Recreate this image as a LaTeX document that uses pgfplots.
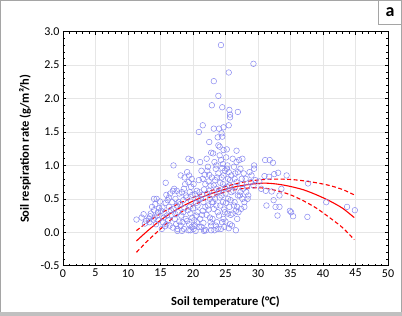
\documentclass[border=0pt]{standalone}
\usepackage{fontspec}
\setmainfont{Carlito}
\usepackage{pgfplots}
\pgfplotsset{compat=1.18}
\definecolor{mk}{RGB}{135,135,240}
\definecolor{grd}{RGB}{230,230,230}
\definecolor{frm}{RGB}{165,165,165}
\begin{document}
\begin{tikzpicture}
\begin{axis}[
 scale only axis, width=325pt, height=234pt,
 xmin=0,xmax=50,ymin=-0.5,ymax=3,
 xtick={0,5,...,50}, ytick={-0.5,0,0.5,1,1.5,2,2.5,3},
 minor x tick num=4, minor y tick num=4,
 tick align=inside, major tick length=3pt, minor tick length=2pt,
 tick style={black, line width=0.5pt},
 xmajorgrids, ymajorgrids, grid style={grd, line width=0.5pt},
 axis line style={line width=0.8pt},
 /pgf/number format/assume math mode=true,
 ticklabel style={font=\fontsize{12}{14}\selectfont},
 y tick label style={/pgf/number format/.cd, fixed, fixed zerofill, precision=1},
 xlabel={Soil temperature (°C)},
 ylabel={Soil respiration rate (g/m²/h)},
 label style={font=\bfseries\fontsize{12.5}{14}\selectfont},
 xlabel style={at={(axis description cs:0.5,-0.155)}, anchor=center},
 ylabel style={at={(axis description cs:-0.117,0.5)}, anchor=center},
]
\addplot[only marks, mark=o, mark size=2.8pt, mark options={mk, line width=0.5pt}] table {
x y
24.3 2.80
29.3 2.52
25.5 2.39
23.2 2.26
23.9 2.04
22.9 1.90
24.5 1.87
25.6 1.83
25.7 1.76
25.7 1.72
26.9 1.80
21.5 1.60
20.9 1.50
23.2 1.55
24.0 1.55
24.7 1.57
25.5 1.60
24.4 1.48
24.5 1.43
23.8 1.42
22.5 1.35
23.9 1.30
24.1 1.28
24.7 1.23
25.2 1.24
26.7 1.22
22.8 1.19
17.0 1.00
19.3 1.10
19.8 1.08
15.8 0.74
11.3 0.19
12.4 0.27
13.4 0.24
14.0 0.50
14.4 0.50
31.1 1.08
31.8 1.08
32.3 1.04
29.4 1.00
29.4 0.95
31.0 0.84
31.7 0.83
32.5 0.87
33.1 0.89
34.4 0.85
31.2 0.62
32.1 0.61
33.3 0.55
33.6 0.65
31.3 0.40
32.4 0.48
32.7 0.38
33.3 0.38
33.0 0.25
34.9 0.32
35.1 0.30
35.4 0.24
37.6 0.23
37.7 0.73
40.5 0.45
43.7 0.38
44.9 0.33
12.1 0.22
12.8 0.17
13.2 0.20
12.6 0.13
13.5 0.28
13.9 0.19
13.7 0.38
13.3 0.15
14.0 0.33
14.2 0.42
14.5 0.25
14.8 0.36
14.3 0.12
14.7 0.18
14.9 0.46
14.6 0.30
14.1 0.22
15.2 0.05
15.4 0.15
15.6 0.28
15.8 0.44
15.3 0.37
15.9 0.56
15.5 0.22
15.7 0.09
15.1 0.32
15.9 0.12
16.1 0.48
16.3 0.38
16.5 0.58
16.7 0.26
16.2 0.18
16.9 0.62
16.4 0.10
16.8 0.45
16.6 0.33
16.0 0.25
16.9 0.07
16.3 0.52
17.1 0.65
17.3 0.50
17.5 0.40
17.7 0.30
17.2 0.20
17.9 0.58
17.4 0.12
17.6 0.05
17.8 0.45
17.0 0.35
17.5 0.62
17.3 0.27
17.9 0.16
17.6 0.02
18.1 0.85
18.3 0.60
18.5 0.48
18.7 0.36
18.2 0.25
18.9 0.55
18.4 0.15
18.6 0.05
18.8 0.72
18.0 0.42
18.5 0.30
18.3 0.02
18.9 0.20
18.6 0.65
18.1 0.10
18.7 0.82
19.1 0.90
19.3 0.75
19.5 0.60
19.7 0.46
19.2 0.33
19.9 0.22
19.4 0.12
19.6 0.03
19.8 0.80
19.0 0.52
19.5 0.38
19.3 0.03
19.9 0.56
19.6 0.28
19.1 0.17
19.7 0.68
19.4 0.85
19.8 0.08
20.1 0.72
20.3 0.57
20.5 0.44
20.7 0.30
20.2 0.18
20.9 0.08
20.4 0.02
20.6 0.62
20.8 0.50
20.0 0.36
20.5 0.25
20.3 0.10
20.9 0.78
20.6 0.15
20.1 0.05
20.7 0.40
21.1 1.05
21.3 0.92
21.5 0.80
21.7 0.64
21.2 0.50
21.9 0.38
21.4 0.26
21.6 0.14
21.8 0.04
21.0 0.60
21.5 0.32
21.3 0.08
21.9 0.72
21.6 0.45
21.1 0.20
21.7 0.02
21.4 0.56
21.8 0.86
22.1 1.10
22.3 0.98
22.5 0.86
22.7 0.70
22.2 0.58
22.9 0.45
22.4 0.34
22.6 0.22
22.8 0.10
22.0 0.03
22.5 0.62
22.3 0.40
22.9 0.82
22.6 0.50
22.1 0.26
22.7 0.15
22.4 0.76
22.8 0.03
22.2 0.92
23.1 1.18
23.3 1.05
23.5 0.95
23.7 0.82
23.2 0.70
23.9 0.60
23.4 0.50
23.6 0.40
23.8 0.30
23.0 0.20
23.5 0.10
23.3 0.03
23.9 0.88
23.6 0.65
23.1 0.45
23.7 0.15
23.4 0.78
23.8 0.05
23.2 0.35
23.0 0.55
23.6 1.00
24.1 1.15
24.3 1.08
24.5 0.96
24.7 0.85
24.2 0.74
24.9 0.66
24.4 0.55
24.6 0.45
24.8 0.34
24.0 0.25
24.5 0.15
24.3 0.05
24.9 0.92
24.6 0.72
24.1 0.52
24.7 0.20
24.4 0.82
24.8 0.08
24.2 0.40
24.0 0.62
24.6 1.02
24.9 0.30
25.1 1.12
25.3 1.00
25.5 0.90
25.7 0.78
25.2 0.68
25.9 0.60
25.4 0.50
25.6 0.38
25.8 0.26
25.0 0.16
25.5 0.06
25.3 0.28
25.9 0.85
25.6 0.70
25.1 0.44
25.7 0.12
25.4 0.80
25.8 0.48
25.2 0.95
25.0 0.58
26.1 1.10
26.3 0.98
26.5 0.88
26.7 0.75
26.2 0.62
26.9 0.55
26.4 0.45
26.6 0.32
26.8 0.20
26.0 0.10
26.6 0.03
26.3 0.40
26.9 0.90
26.5 0.68
26.1 0.28
26.7 1.05
26.4 0.80
26.8 0.38
27.1 1.08
27.3 0.95
27.5 0.80
27.7 0.65
27.2 0.55
27.9 0.45
27.4 0.35
27.6 0.50
27.8 0.88
27.0 0.30
27.5 0.72
27.3 0.60
27.9 0.38
27.6 1.10
28.1 0.80
28.3 0.68
28.5 0.55
28.7 0.90
28.2 0.60
28.9 0.75
28.4 0.50
29.0 0.85
29.3 0.70
29.6 0.78
30.2 0.76
30.5 0.65
};
\addplot[red, line width=1.1pt, smooth] table {
x y
11.3 -0.13
13 0.02
15 0.18
17 0.31
19 0.42
21 0.51
23 0.585
25 0.645
27 0.69
29 0.72
31 0.735
33 0.72
35 0.685
37 0.635
39 0.56
41 0.47
43 0.36
44.8 0.22
};
\addplot[red, line width=1.1pt, smooth, dash pattern=on 4pt off 2.5pt] table {
x y
11.3 0.025
13 0.15
15 0.28
17 0.39
19 0.48
21 0.56
23 0.63
25 0.685
27 0.735
29 0.77
31 0.79
33 0.795
35 0.79
37 0.77
39 0.74
41 0.70
43 0.64
44.8 0.56
};
\addplot[red, line width=1.1pt, smooth, dash pattern=on 4pt off 2.5pt] table {
x y
11.3 -0.30
13 -0.13
15 0.05
17 0.22
19 0.35
21 0.45
23 0.54
25 0.605
27 0.645
29 0.665
31 0.66
33 0.62
35 0.56
37 0.47
39 0.36
41 0.22
43 0.07
44.8 -0.11
};
\end{axis}
\draw[frm, line width=1pt] (-62.5pt,-49.8pt) rectangle (338.5pt,265.2pt);
\fill[frm!70] (-63pt,-50.3pt) rectangle (339pt,-46.5pt);
\draw[frm, line width=0.8pt] (315pt,265.7pt) -- (315pt,241.4pt) -- (339pt,241.4pt);
\node[font=\bfseries\fontsize{18}{20}\selectfont] at (327pt,253.3pt) {a};
\pgfresetboundingbox
\path[use as bounding box] (-63pt,-50.3pt) rectangle (339pt,265.7pt);
\end{tikzpicture}
\end{document}
